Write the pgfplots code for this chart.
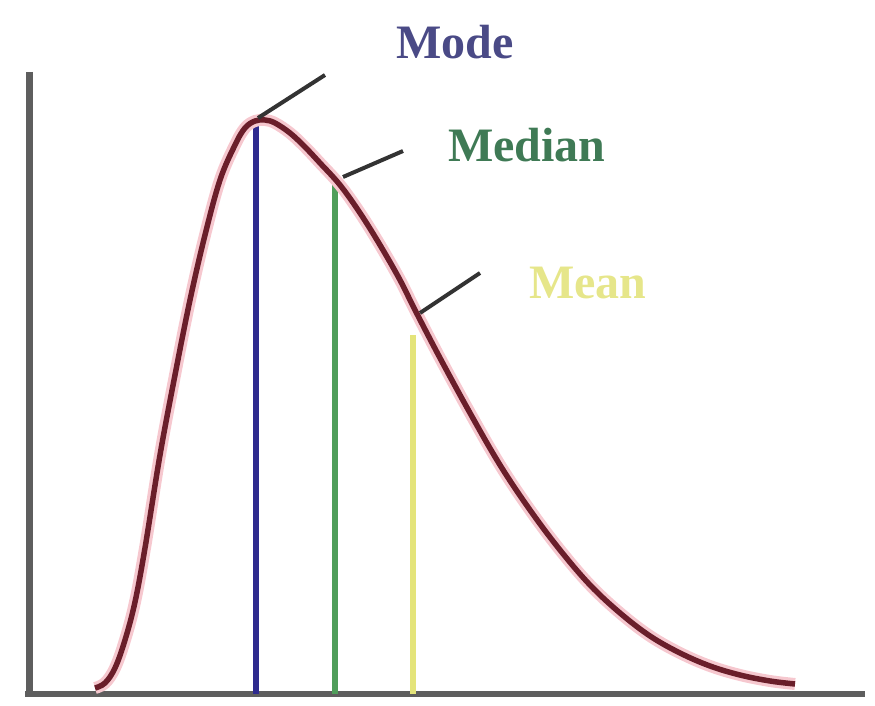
\documentclass[border=0pt]{standalone}
\usepackage{pgfplots}
\pgfplotsset{compat=1.18}
\usepackage{fontspec}
\setmainfont{Liberation Serif}
\usepackage{pgfplotstable}
\definecolor{curvecol}{HTML}{6A1E2A}
\definecolor{halo}{HTML}{F6C8CF}
\definecolor{axiscol}{HTML}{5E5E5E}
\definecolor{modecol}{HTML}{2E2A8E}
\definecolor{medcol}{HTML}{4F9E5A}
\definecolor{meancol}{HTML}{E4E47A}
\definecolor{modetxt}{HTML}{4A4A86}
\definecolor{medtxt}{HTML}{3F7A55}
\definecolor{meantxt}{HTML}{E6E68A}
\pgfplotstableread{
x y
95 17
105 22
115 37
125 65
135 103
145 157
160 250
175 330
190 405
205 470
220 525
235 560
245 577
255 584
265 585
275 582
290 572
305 558
320 542
340 520
360 492
380 460
400 425
415 395
440 347
470 292
500 240
530 195
560 155
590 120
620 92
650 69
680 52
710 39
740 30
770 24
795 21
}\curvedata
\begin{document}
\begin{tikzpicture}
\begin{axis}[
  hide axis, scale only axis, width=875pt, height=705pt,
  xmin=0, xmax=875, ymin=0, ymax=705, clip=false,
]
\path (axis cs:0,0) rectangle (axis cs:875,705);
% axes
\addplot[axiscol, line width=7pt, line cap=butt] coordinates {(29,633) (29,11)};
\addplot[axiscol, line width=6pt] coordinates {(25,11) (865,11)};
% vertical lines
\addplot[modecol, line width=6pt] coordinates {(256,585) (256,11)};
\addplot[medcol, line width=6pt] coordinates {(335,522) (335,11)};
\addplot[meancol, line width=6pt] coordinates {(413,370) (413,11)};
% curve halo and curve
\addplot[halo, line width=12pt, smooth, tension=0.6] table[x=x,y=y] {\curvedata};
\addplot[curvecol, line width=5.5pt, smooth, tension=0.6] table[x=x,y=y] {\curvedata};
% pointers
\addplot[black!80, line width=4pt] coordinates {(258,587) (325,630)};
\addplot[black!80, line width=4pt] coordinates {(343,528) (403,554)};
\addplot[black!80, line width=4pt] coordinates {(420,392) (480,432)};
% labels
\node[text=modetxt, font=\fontsize{48}{50}\selectfont\bfseries] at (axis cs:455,663) {Mode};
\node[text=medtxt, font=\fontsize{48}{50}\selectfont\bfseries] at (axis cs:527,560) {Median};
\node[text=meantxt, font=\fontsize{48}{50}\selectfont\bfseries] at (axis cs:588,422) {Mean};
\end{axis}
\end{tikzpicture}
\end{document}
